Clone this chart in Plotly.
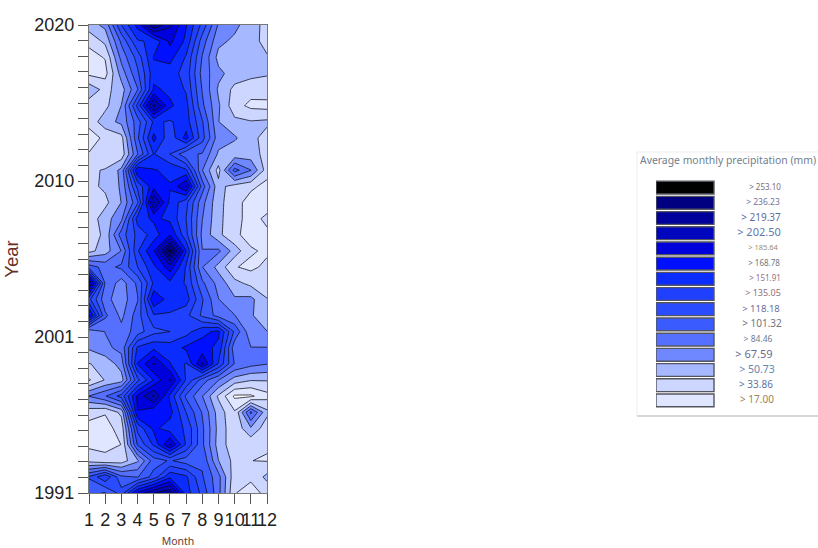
import plotly.graph_objects as go

W, H = 818, 548
months = list(range(1, 13))
years = list(range(2020, 1990, -1))

precip = [
    [60, 72, 135, 175, 238, 205, 170, 130, 82, 72, 58, 45],     # 2020
    [38, 55, 105, 150, 155, 190, 165, 110, 72, 64, 56, 46],     # 2019
    [28, 35, 90, 125, 170, 175, 150, 100, 62, 62, 56, 52],      # 2018
    [30, 28, 75, 115, 162, 160, 145, 95, 72, 60, 56, 52],       # 2017
    [62, 45, 60, 100, 172, 165, 150, 100, 65, 46, 40, 44],      # 2016
    [42, 46, 68, 140, 225, 172, 158, 105, 70, 40, 30, 28],      # 2015
    [40, 60, 72, 110, 155, 150, 160, 120, 68, 55, 52, 54],      # 2014
    [25, 38, 45, 115, 174, 140, 175, 125, 75, 70, 56, 44],      # 2013
    [35, 38, 40, 100, 153, 135, 105, 100, 65, 56, 58, 45],      # 2012
    [48, 52, 72, 185, 170, 165, 155, 85, 45, 108, 85, 42],      # 2011
    [46, 54, 70, 140, 180, 170, 205, 110, 56, 44, 38, 28],      # 2010
    [35, 46, 68, 115, 222, 165, 140, 90, 55, 42, 25, 25],       # 2009
    [40, 60, 80, 160, 172, 165, 135, 85, 55, 40, 27, 38],       # 2008
    [40, 55, 110, 140, 160, 185, 140, 80, 55, 37, 28, 30],      # 2007
    [45, 60, 85, 150, 185, 260, 170, 85, 88, 60, 36, 31],       # 2006
    [110, 95, 105, 135, 165, 195, 150, 85, 62, 35, 30, 38],     # 2005
    [225, 100, 76, 105, 155, 165, 150, 105, 78, 56, 46, 35],    # 2004
    [140, 90, 75, 100, 185, 160, 160, 120, 85, 70, 72, 52],     # 2003
    [190, 105, 80, 110, 150, 150, 140, 115, 95, 85, 70, 55],    # 2002
    [70, 85, 90, 110, 130, 135, 145, 165, 172, 115, 72, 68],    # 2001
    [70, 80, 90, 155, 165, 160, 172, 175, 165, 90, 85, 85],     # 2000
    [50, 56, 75, 170, 205, 170, 150, 205, 150, 100, 90, 85],    # 1999
    [32, 52, 60, 130, 170, 205, 150, 110, 85, 60, 52, 52],      # 1998
    [85, 100, 125, 190, 222, 165, 115, 85, 48, 14, 14, 28],     # 1997
    [40, 35, 55, 185, 172, 175, 135, 100, 60, 36, 105, 55],     # 1996
    [28, 28, 40, 140, 173, 160, 150, 105, 62, 38, 65, 40],      # 1995
    [30, 30, 34, 120, 155, 205, 150, 105, 60, 40, 38, 35],      # 1994
    [45, 38, 42, 65, 110, 120, 110, 115, 68, 45, 34, 33],       # 1993
    [120, 150, 105, 100, 125, 165, 155, 120, 90, 40, 38, 55],   # 1992
    [105, 100, 125, 190, 220, 235, 160, 130, 90, 35, 25, 40],   # 1991
]

levels = [253.10, 236.23, 219.37, 202.50, 185.64, 168.78, 151.91, 135.05,
          118.18, 101.32, 84.46, 67.59, 50.73, 33.86, 17.00]
level_labels = ["> %.2f" % v for v in levels]
level_colors = ["#000000", "#000080", "#00009A", "#0006BE", "#0000DD", "#0010FF", "#0A2CFF",
                "#1F40FF", "#2A4CFF", "#3A5CFF", "#5570FF", "#6F88FF", "#A6B8FF", "#CCD6FF", "#E0E6FF"]
label_font_sizes = [8, 8.5, 10, 11, 7.5, 8, 8, 9, 9.5, 10, 8.5, 11, 10.5, 10, 10]
label_font_colors = ["#806A78", "#75749A", "#5E6C9E", "#5F78AE", "#9A8C70", "#6E7880", "#94707E",
                     "#90707E", "#6A6EA0", "#70757E", "#707C94", "#676A92", "#5F86B0", "#5E74A0", "#A08058"]
label_center_px = [765, 763, 761, 759, 763, 764, 765, 763, 761, 762, 758, 754, 757, 756, 757]

year_tick_labels = ["2020", "2010", "2001", "1991"]

bands = ["#FFFFFF"] + level_colors[::-1]
step = (levels[0] - levels[-1]) / (len(levels) - 1)
zmin = levels[-1] - step
zmax = levels[0] + step
colorscale = []
for i, c in enumerate(bands):
    colorscale.append([i / len(bands), c])
    colorscale.append([(i + 1) / len(bands), c])

fig = go.Figure()
fig.add_trace(go.Contour(
    x=months, y=years, z=precip,
    autocontour=False,
    contours=dict(start=levels[-1], end=levels[0], size=step, coloring="fill", showlines=True),
    line=dict(color="rgba(10,10,20,0.85)", width=0.9, smoothing=0),
    colorscale=colorscale, zmin=zmin, zmax=zmax, zauto=False,
    showscale=False, hoverinfo="skip",
))

swatch_l, swatch_r, legend_r = 656, 714, 800
swatch_w = swatch_r - swatch_l
fig.add_trace(go.Bar(
    x=[1] * len(levels), y=level_labels, orientation="h",
    xaxis="x2", yaxis="y2", width=0.84,
    marker=dict(color=level_colors, line=dict(color="#55555F", width=1.4)),
    showlegend=False, hoverinfo="skip",
))
fig.add_trace(go.Scatter(
    x=[(c - swatch_l) / swatch_w for c in label_center_px],
    y=level_labels, mode="text", text=level_labels,
    textposition="middle center",
    textfont=dict(size=label_font_sizes, color=label_font_colors, family="Noto Sans"),
    xaxis="x2", yaxis="y2", cliponaxis=False,
    showlegend=False, hoverinfo="skip",
))

n_int = 30
y_tickvals = [2020 - i * 29 / n_int for i in range(n_int + 1)]
y_ticktext = [year_tick_labels[i // 10] if i % 10 == 0 else "" for i in range(n_int + 1)]

axis_common = dict(
    showgrid=False, zeroline=False, ticks="outside", ticklen=10, tickwidth=1.3,
    tickcolor="#555555", showline=True, linecolor="#777777", linewidth=1.4, mirror=True,
    tickfont=dict(family="Liberation Sans", size=18, color="#222222"), automargin=False,
)
fig.update_layout(
    width=W, height=H, margin=dict(l=0, r=0, t=0, b=0, pad=0, autoexpand=False),
    paper_bgcolor="white", plot_bgcolor="white", showlegend=False,
    xaxis=dict(domain=[89 / W, 267 / W], range=[1, 12], tickmode="array", tickvals=months,
               ticktext=[str(m) for m in months], tickangle=0,
               title=dict(text="Month", font=dict(family="Noto Sans", size=10.5, color="#6A3A30"), standoff=17),
               **axis_common),
    yaxis=dict(domain=[1 - 493 / H, 1 - 25 / H], range=[1991, 2020], tickmode="array",
               tickvals=y_tickvals, ticktext=y_ticktext,
               title=dict(text="Year", font=dict(family="Liberation Sans", size=18.5, color="#6A2E26"), standoff=10),
               **axis_common),
    xaxis2=dict(domain=[swatch_l / W, legend_r / W], range=[0, (legend_r - swatch_l) / swatch_w],
                anchor="y2", visible=False),
    yaxis2=dict(domain=[1 - 408 / H, 1 - 180 / H], anchor="x2", visible=False, type="category",
                categoryorder="array", categoryarray=level_labels[::-1],
                range=[-0.5, len(levels) - 0.5]),
    shapes=[
        dict(type="rect", xref="paper", yref="paper", x0=637 / W, x1=1.01, y0=1 - 416 / H, y1=1 - 152 / H,
             line=dict(color="#EDEDED", width=1), fillcolor="white", layer="below"),
        dict(type="line", xref="paper", yref="paper", x0=637 / W, x1=1, y0=1 - 416 / H, y1=1 - 416 / H,
             line=dict(color="#D8D8D8", width=2), layer="below"),
    ],
    annotations=[
        dict(text="Average monthly precipitation (mm)", xref="paper", yref="paper",
             x=638 / W, y=1 - 160 / H, xanchor="left", yanchor="middle", showarrow=False,
             font=dict(family="Noto Sans", size=10.4, color="#70808F")),
    ],
)
fig.write_html("out.html", config={"displayModeBar": False},
               post_script="document.body.style.margin='0';")
